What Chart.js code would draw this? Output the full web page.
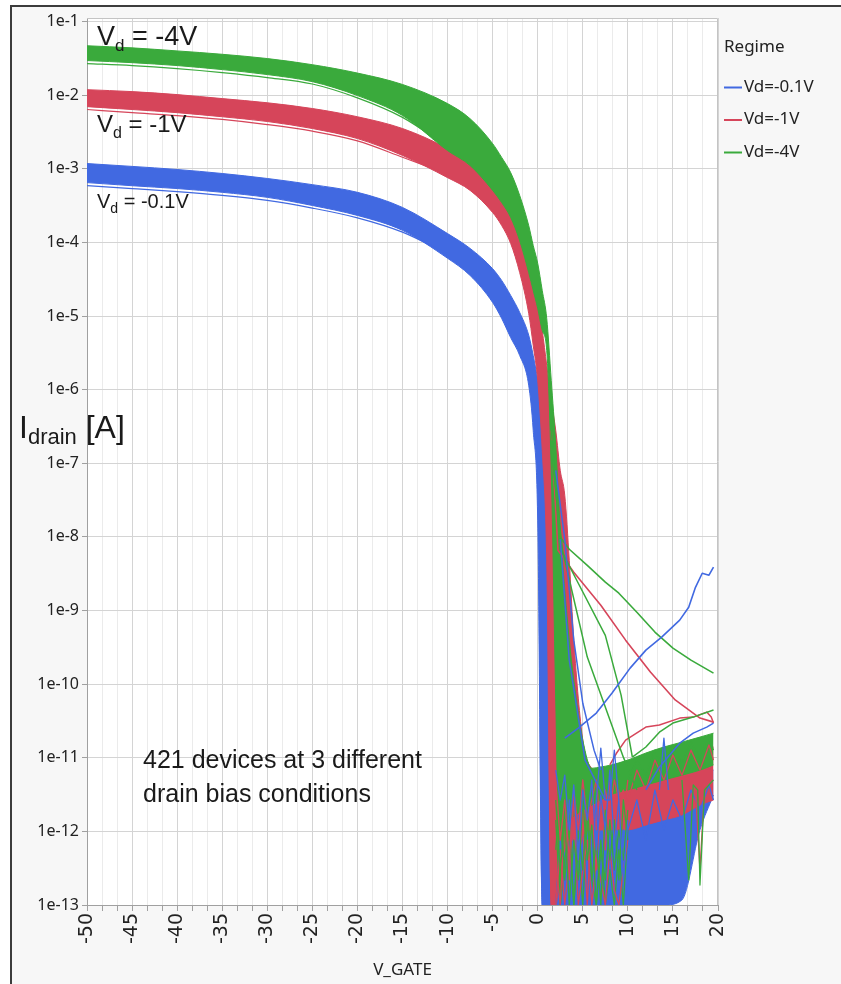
<!DOCTYPE html>
<html>
<head>
<meta charset="utf-8">
<title>Drain current vs gate voltage</title>
<script src="https://cdn.jsdelivr.net/npm/chart.js@4.4.1/dist/chart.umd.min.js"></script>
<style>
  html, body { margin: 0; padding: 0; background: #ffffff; overflow: hidden; width: 841px; height: 984px; }
  #frame { position: absolute; left: 10px; top: 5px; width: 860px; height: 1000px;
           background: #f7f7f7; border-left: 2px solid #3c3c3c; border-top: 2px solid #3c3c3c; }
  #wrap { position: absolute; left: 0; top: 0; width: 841px; height: 984px; }
</style>
</head>
<body>
<div id="frame"></div>
<div id="wrap"><canvas id="chart" width="841" height="984"></canvas></div>
<script>
// ---- Gate-voltage sweep (V) shared by the envelope curves ----
const gateV = [-50, -45, -40, -35, -30, -25, -20, -15, -10, -7.5, -5, -4, -3, -2, -1, -0.5, 0, 0.5,
               1, 1.5, 2, 2.5, 3, 3.5, 4, 5, 6, 7, 8, 10, 12, 14, 16, 18, 19.5];

// ---- Envelopes of the 421 device curves per drain bias (A) ----
const vd4Upper = [4.7e-2, 4.4e-2, 4.0e-2, 3.6e-2, 3.15e-2, 2.6e-2, 2.0e-2, 1.4e-2, 7.7e-3, 4.8e-3,
                  2.2e-3, 1.43e-3, 8.9e-4, 4.35e-4, 1.7e-4, 9.1e-5, 5.2e-5, 2.23e-5, 9.3e-6, 1.34e-6,
                  1.76e-7, 1.23e-8, 1.89e-9, 3.96e-10, 1.13e-10, 1.74e-11, 7.2e-12, 7.5e-12, 7.9e-12, 9.3e-12,
                  1.16e-11, 1.4e-11, 1.63e-11, 1.91e-11, 2.16e-11];
const vd4Lower = [2.96e-2, 2.77e-2, 2.53e-2, 2.23e-2, 1.91e-2, 1.53e-2, 9.9e-3, 5.3e-3, 1.77e-3, 1.11e-3,
                  5.1e-4, 3.49e-4, 2.19e-4, 1.06e-4, 3.9e-5, 2.23e-5, 1.27e-5, 6.4e-6, 3.42e-6, 8.0e-8,
                  6.1e-11, 1e-13, 1.0e-12, 1.43e-12, 1.6e-12, 1.95e-12, 2.28e-12, 2.67e-12, 3.12e-12, 3.65e-12,
                  4.27e-12, 5.0e-12, 5.8e-12, 6.8e-12, 8.0e-12];
const vd1Upper = [1.19e-2, 1.12e-2, 1.02e-2, 9.0e-3, 7.9e-3, 6.6e-3, 5.1e-3, 3.53e-3, 1.89e-3, 1.22e-3,
                  5.9e-4, 3.96e-4, 2.33e-4, 1.24e-4, 5.4e-5, 3.05e-5, 1.63e-5, 6.4e-6, 2.14e-6, 7.2e-7,
                  2.8e-7, 8.0e-8, 3.68e-8, 4.8e-9, 4.0e-10, 1.74e-11, 7.2e-12, 6.4e-12, 6.4e-12, 6.8e-12,
                  8.0e-12, 9.3e-12, 1.09e-11, 1.27e-11, 1.4e-11];
const vd1Lower = [7.0e-3, 6.4e-3, 5.8e-3, 5.1e-3, 4.4e-3, 3.53e-3, 2.58e-3, 1.52e-3, 7.6e-4, 5.1e-4,
                  2.55e-4, 1.7e-4, 9.7e-5, 3.9e-5, 1.09e-5, 4.0e-6, 1.34e-6, 1.5e-7, 4.8e-9, 1e-13,
                  1e-13, 3.0e-13, 5.6e-13, 7.6e-13, 7.6e-13, 9.0e-13, 1.05e-12, 1.05e-12, 1.05e-12, 1.05e-12,
                  1.22e-12, 1.43e-12, 1.67e-12, 2.28e-12, 2.67e-12];
const vd01Upper = [1.18e-3, 1.08e-3, 9.8e-4, 8.65e-4, 7.4e-4, 6.1e-4, 4.8e-4, 2.99e-4, 1.32e-4, 8.3e-5,
                   4.4e-5, 3.05e-5, 1.91e-5, 1.12e-5, 5.5e-6, 2.92e-6, 1.34e-6, 4.5e-7, 1.76e-7, 4.3e-8,
                   7.7e-9, 7.4e-10, 6.8e-12, 6.4e-12, 5.8e-12, 5.3e-12, 5.0e-12, 4.27e-12, 3.65e-12, 2.67e-12,
                   2.28e-12, 2.67e-12, 3.65e-12, 5.0e-12, 6.8e-12];
const vd01Lower = [6.5e-4, 5.9e-4, 5.4e-4, 4.8e-4, 4.1e-4, 3.18e-4, 2.33e-4, 1.46e-4, 6.1e-5, 3.56e-5,
                   1.53e-5, 9.3e-6, 5.1e-6, 2.92e-6, 1.15e-6, 2.8e-7, 1.69e-8, 1e-13, 1e-13, 1e-13,
                   1e-13, 1e-13, 1e-13, 1e-13, 1e-13, 1e-13, 1e-13, 1e-13, 1e-13, 1e-13,
                   1e-13, 1e-13, 1.17e-13, 1.05e-12, 3.12e-12];

// ---- Lowest on-current devices, slightly apart from each bundle ----
const lowDeviceGate = [-50, -45, -40, -35, -30, -25, -20, -15, -10];
const vd4LowDevice  = [2.69e-2, 2.53e-2, 2.3e-2, 2.03e-2, 1.74e-2, 1.42e-2, 9.2e-3, 5.0e-3, 2.0e-3];
const vd1LowDevice  = [6.4e-3, 5.8e-3, 5.3e-3, 4.7e-3, 4.0e-3, 3.25e-3, 2.4e-3, 1.44e-3, 8.5e-4];
const vd01LowDevice = [5.9e-4, 5.4e-4, 4.9e-4, 4.35e-4, 3.72e-4, 2.93e-4, 2.16e-4, 1.38e-4, 7.0e-5];

// ---- Individual outlier devices ----
const vd4TailGate = [1.5, 2.5, 3.5, 5.5, 7.5, 9, 11, 13, 15, 17, 19.5];
const vd4Tail     = [2.05e-7, 9.9e-9, 6.8e-9, 4.1e-9, 2.43e-9, 1.72e-9, 9.5e-10, 5.1e-10, 3.08e-10, 2.12e-10, 1.41e-10];
const vd4DropAGate = [1.5, 2.5, 4.5, 7.5, 9.25, 10.5];
const vd4DropA     = [3.0e-7, 7.0e-9, 2.35e-9, 4.6e-10, 7.1e-11, 1.02e-11];
const vd4DropBGate = [1.5, 2.75, 5.5, 9.5, 11];
const vd4DropB     = [1.5e-7, 6.6e-9, 2.33e-10, 1.02e-11, 3.65e-12];
const vd4RiseGate = [10.5, 12, 13.5, 15, 17.25, 19.5];
const vd4Rise     = [1.02e-11, 1.4e-11, 2.23e-11, 2.96e-11, 3.57e-11, 4.45e-11];
const vd1TailGate = [1.5, 2.25, 4, 7, 9.75, 12.5, 15.25, 18, 19.5];
const vd1Tail     = [2.8e-7, 6.6e-9, 3.32e-9, 1.18e-9, 3.96e-10, 1.46e-10, 6.1e-11, 3.46e-11, 3.05e-11];
const vd1RiseGate = [8, 8.75, 9.75, 12, 13.5, 15.75, 17.25, 18.75, 19.25, 19.5];
const vd1Rise     = [8.0e-12, 1.16e-11, 1.74e-11, 2.61e-11, 2.78e-11, 3.46e-11, 3.57e-11, 4.17e-11, 3.57e-11, 2.96e-11];
const vd01LeakGate = [3, 4.5, 6.5, 8.25, 10.25, 12, 13.75, 15.75, 16.75, 17.5, 18.25, 19, 19.5];
const vd01Leak     = [1.85e-11, 2.53e-11, 4.05e-11, 7.6e-11, 1.65e-10, 2.9e-10, 4.35e-10, 7.4e-10, 1.11e-9, 2.07e-9, 3.21e-9, 3.02e-9, 3.88e-9];
const vd01RiseGate = [12, 13.5, 15.75, 17.25, 18.75, 19.5];
const vd01Rise     = [3.65e-12, 7.5e-12, 1.58e-11, 2.16e-11, 2.61e-11, 2.96e-11];
const vd01DropAGate = [2, 3, 4, 5, 6.25, 7];
const vd01DropA     = [8.0e-8, 9.3e-9, 3.96e-10, 5.5e-11, 1.27e-11, 6.8e-12];
const vd01DropBGate = [2.5, 3.5, 5.25, 7.5];
const vd01DropB     = [9.3e-9, 2.12e-10, 9.3e-12, 2.67e-12];
const vd01SpikeGate = [6.5, 7, 7.5, 8, 8.5, 9, 11, 13.5, 14, 14.5];
const vd01Spike     = [2.67e-12, 1.35e-11, 2.67e-12, 2.67e-12, 1.27e-11, 2.67e-12, null, 3.65e-12, 1.85e-11, 3.65e-12];
const vd4SpikeGate = [16, 16.75, 17.25, 17.75, 18, 18.5, 19.5];
const vd4Spike     = [5.0e-12, 2.19e-13, 4.27e-12, 3.65e-12, 1.87e-13, 3.65e-12, 5.0e-12];
const vd1SpikeGate = [17.5, 18, 18.5];
const vd1Spike     = [3.65e-12, 3.0e-13, 3.65e-12];

// ---- Off-state noise floor traces ----
const floorGateL = [2, 2.5, 3, 3.5, 4, 4.5, 5, 5.5, 6, 6.5, 7, 7.5, 8, 8.5, 9, 9.5, 10];
const floorGateR = [10, 11, 12, 13, 14, 15, 16, 17, 18, 19, 19.5];
const vd01FloorA = [6.8e-12, 2.67e-12, 5.8e-12, 1.05e-12, 4.27e-12, 4.1e-13, 3.65e-12, 1.43e-12, 5.0e-12,
                    5.6e-13, 3.12e-12, 1.05e-12, 6.8e-12, 6.5e-13, 2.67e-12, 2.19e-13, 1.43e-12];
const vd01FloorB = [1e-13, 7.6e-13, 2.19e-13, 2.67e-12, 3.0e-13, 1.67e-12, 1e-13, 1.05e-12, 4.1e-13,
                    2.67e-12, 1.6e-13, 7.6e-13, 1e-13, 5.6e-13, 2.19e-13, 1.05e-12, 3.0e-13];
const vd4FloorA = [2.67e-12, 3.0e-13, 1.43e-12, 1e-13, 7.6e-13, 2.19e-13, 2.67e-12, 4.1e-13, 1.22e-12,
                   1e-13, 5.6e-13, 2.19e-13, 1.43e-12, 3.0e-13, 1.05e-12, 4.1e-13, 1.95e-12];
const vd4FloorB = [5.6e-13, 3.65e-12, 2.19e-13, 1.43e-12, 1e-13, 1.05e-12, 3.0e-13, 2.67e-12, 2.19e-13,
                   7.6e-13, 1e-13, 1.95e-12, 4.1e-13, 1.43e-12, 2.19e-13, 2.67e-12, 7.6e-13];
const vd4FloorC = [1.43e-12, 1e-13, 4.1e-13, 1.05e-12, 1e-13, 5.6e-13, 1e-13, 1.43e-12, 2.19e-13,
                   1e-13, 7.6e-13, 1e-13, 3.0e-13, 1e-13, 5.6e-13, 1e-13, 1.05e-12];
const vd1FloorA = [4.1e-13, 1e-13, 1.43e-12, 2.19e-13, 2.67e-12, 4.1e-13, 1.05e-12, 1e-13, 1.95e-12,
                   3.0e-13, 2.67e-12, 5.6e-13, 5.0e-12, 7.6e-13, 3.65e-12, 1.43e-12, 5.0e-12];
const vd1FloorB = [5.0e-12, 7.6e-13, 2.67e-12, 4.1e-13, 3.65e-12, 1.05e-12, 5.0e-12, 1.43e-12, 2.67e-12,
                   5.0e-12, 1.05e-12, 3.65e-12, 1.95e-12, 5.0e-12, 2.67e-12, 3.65e-12, 2.28e-12];
const vd1FloorC = [1e-13, 5.6e-13, 1e-13, 4.1e-13, 1.43e-12, 1e-13, 3.0e-13, 7.6e-13, 1e-13,
                   4.1e-13, 2.19e-13, 1e-13, 5.6e-13, 1.6e-13, 1e-13, 3.0e-13, 7.6e-13];
const vd1FloorR  = [2.67e-12, 6.8e-12, 3.65e-12, 9.3e-12, 5.0e-12, 1.09e-11, 5.8e-12, 1.27e-11, 6.8e-12, 1.49e-11, 9.3e-12];
const vd4FloorR  = [5.0e-12, 9.3e-12, 5.8e-12, 1.27e-11, 6.8e-12, 1.35e-11, 8.7e-12, 1.63e-11, 9.9e-12, 1.85e-11, 1.27e-11];
const vd01FloorR = [1.05e-12, 2.67e-12, 7.6e-13, 3.65e-12, 1.05e-12, 2.67e-12, 1.43e-12, 3.65e-12, 1.95e-12, 4.27e-12, 2.67e-12];

// ---- Axes ----
const xTickLabels = ['-50', '-45', '-40', '-35', '-30', '-25', '-20', '-15', '-10', '-5', '0', '5', '10', '15', '20'];
const yTickLabels = ['1e-13', '1e-12', '1e-11', '1e-10', '1e-9', '1e-8', '1e-7', '1e-6', '1e-5', '1e-4', '1e-3', '1e-2', '1e-1'];
const yTickValues = [1e-13, 1e-12, 1e-11, 1e-10, 1e-9, 1e-8, 1e-7, 1e-6, 1e-5, 1e-4, 1e-3, 1e-2, 1e-1];

// ---- Legend ----
const legendTitle = 'Regime';
const legendLabels = ['Vd=-0.1V', 'Vd=-1V', 'Vd=-4V'];

const COLOR = { vd01: '#4169e1', vd1: '#d6455a', vd4: '#3aaa3c' };
const legendColors = [COLOR.vd01, COLOR.vd1, COLOR.vd4];
const TICK_FONT = '"Noto Sans", "DejaVu Sans", sans-serif';
const XTICK_FONT = '"DejaVu Sans", "Noto Sans", sans-serif';
const NOTE_FONT = '"Liberation Sans", Arial, sans-serif';

function pts(xs, ys) { return xs.map((x, i) => ({ x: x, y: ys[i] })); }
function trace(xs, ys, color, width, smooth) {
  const ds = { data: pts(xs, ys), borderColor: color, backgroundColor: color,
               borderWidth: width, fill: false, pointRadius: 0 };
  if (smooth) ds.cubicInterpolationMode = 'monotone';
  return ds;
}
function band(upper, lower, color) {
  const common = { borderColor: color, backgroundColor: color, borderWidth: 1, pointRadius: 0,
                   cubicInterpolationMode: 'monotone' };
  return [
    Object.assign({ data: pts(gateV, upper), fill: '+1' }, common),
    Object.assign({ data: pts(gateV, lower), fill: false }, common)
  ];
}

// x ticks: labelled every 5 V, two unlabelled grid steps in between
const xMajor = xTickLabels.map(Number);
const xTicks = [];
xMajor.forEach((v, i) => {
  xTicks.push(v);
  if (i < xMajor.length - 1) { xTicks.push(v + 5 / 3); xTicks.push(v + 10 / 3); }
});
const majorIndex = (v) => xMajor.findIndex(m => Math.abs(m - v) < 1e-6);

// first dataset is painted last (on top)
const datasets = [
  trace(vd01LeakGate, vd01Leak, COLOR.vd01, 1.6),
  trace(vd01RiseGate, vd01Rise, COLOR.vd01, 1.5),
  trace(vd01DropAGate, vd01DropA, COLOR.vd01, 1.5),
  trace(vd01DropBGate, vd01DropB, COLOR.vd01, 1.5),
  trace(vd01SpikeGate, vd01Spike, COLOR.vd01, 1.3),
  trace(vd4TailGate, vd4Tail, COLOR.vd4, 1.6),
  trace(vd4DropAGate, vd4DropA, COLOR.vd4, 1.5),
  trace(vd4DropBGate, vd4DropB, COLOR.vd4, 1.5),
  trace(vd4RiseGate, vd4Rise, COLOR.vd4, 1.5),
  trace(vd4SpikeGate, vd4Spike, COLOR.vd4, 1.3),
  trace(vd1TailGate, vd1Tail, COLOR.vd1, 1.6),
  trace(vd1RiseGate, vd1Rise, COLOR.vd1, 1.5),
  trace(vd1SpikeGate, vd1Spike, COLOR.vd1, 1.3),
  trace(floorGateL, vd01FloorA, COLOR.vd01, 1.3),
  trace(floorGateL, vd4FloorA, COLOR.vd4, 1.3),
  trace(floorGateL, vd1FloorB, COLOR.vd1, 1.3),
  trace(floorGateL, vd4FloorB, COLOR.vd4, 1.3),
  trace(floorGateL, vd1FloorA, COLOR.vd1, 1.3),
  trace(floorGateL, vd1FloorC, COLOR.vd1, 1.3),
  trace(floorGateL, vd4FloorC, COLOR.vd4, 1.3),
  trace(floorGateL, vd01FloorB, COLOR.vd01, 1.3),
  trace(floorGateR, vd4FloorR, COLOR.vd4, 1.3),
  trace(floorGateR, vd1FloorR, COLOR.vd1, 1.3),
  trace(floorGateR, vd01FloorR, COLOR.vd01, 1.3),
  trace(lowDeviceGate, vd4LowDevice, COLOR.vd4, 1.2, true),
  ...band(vd4Upper, vd4Lower, COLOR.vd4),
  trace(lowDeviceGate, vd1LowDevice, COLOR.vd1, 1.2, true),
  ...band(vd1Upper, vd1Lower, COLOR.vd1),
  trace(lowDeviceGate, vd01LowDevice, COLOR.vd01, 1.2, true),
  ...band(vd01Upper, vd01Lower, COLOR.vd01)
];

// text placed relative to the plot area's top-left corner
const biasNotes = [
  { main: 'V', sub: 'd', rest: ' = -4V', dx: 10, dy: 27, size: 27, subSize: 17, drop: 6 },
  { main: 'V', sub: 'd', rest: ' = -1V', dx: 10, dy: 114, size: 24, subSize: 16, drop: 6 },
  { main: 'V', sub: 'd', rest: ' = -0.1V', dx: 10, dy: 190, size: 20, subSize: 14, drop: 5 },
  { main: 'I', sub: 'drain', rest: ' [A]', dx: -68, dy: 420, size: 32, subSize: 22, drop: 6 }
];
const countNote = { lines: ['421 devices at 3 different', 'drain bias conditions'], dx: 56, dy: 750, size: 25, lineGap: 34 };

function drawSub(ctx, x, y, n) {
  ctx.font = n.size + 'px ' + NOTE_FONT;
  ctx.fillText(n.main, x, y);
  let w = ctx.measureText(n.main).width;
  ctx.font = n.subSize + 'px ' + NOTE_FONT;
  ctx.fillText(n.sub, x + w, y + n.drop);
  w += ctx.measureText(n.sub).width;
  ctx.font = n.size + 'px ' + NOTE_FONT;
  ctx.fillText(n.rest, x + w, y);
}

const decorations = {
  id: 'decorations',
  beforeDraw(chart) {
    const { ctx, chartArea: a } = chart;
    ctx.save();
    ctx.fillStyle = '#ffffff';
    ctx.fillRect(a.left, a.top, a.right - a.left, a.bottom - a.top);
    ctx.restore();
  },
  afterDatasetsDraw(chart) {
    const { ctx, chartArea: a } = chart;
    ctx.save();
    ctx.strokeStyle = '#c4c4c4';
    ctx.lineWidth = 1;
    ctx.beginPath();
    ctx.moveTo(a.left, a.top + 0.5);
    ctx.lineTo(a.right - 0.5, a.top + 0.5);
    ctx.lineTo(a.right - 0.5, a.bottom);
    ctx.stroke();
    ctx.restore();
  },
  afterDraw(chart) {
    const { ctx, chartArea: a } = chart;
    ctx.save();
    ctx.fillStyle = '#1a1a1a';
    ctx.textBaseline = 'alphabetic';
    ctx.textAlign = 'left';
    biasNotes.forEach(n => drawSub(ctx, a.left + n.dx, a.top + n.dy, n));
    ctx.font = countNote.size + 'px ' + NOTE_FONT;
    countNote.lines.forEach((t, i) => ctx.fillText(t, a.left + countNote.dx, a.top + countNote.dy + i * countNote.lineGap));

    // legend
    const lx = a.right + 6;
    ctx.fillStyle = '#222222';
    ctx.textBaseline = 'middle';
    ctx.font = '17px ' + TICK_FONT;
    ctx.fillText(legendTitle, lx, a.top + 29);
    legendLabels.forEach((t, i) => {
      const y = a.top + 69 + i * 32.5;
      ctx.strokeStyle = legendColors[i];
      ctx.lineWidth = 2;
      ctx.beginPath();
      ctx.moveTo(lx, y + 0.5);
      ctx.lineTo(lx + 18, y + 0.5);
      ctx.stroke();
      ctx.fillStyle = '#222222';
      ctx.fillText(t, lx + 20, y);
    });
    ctx.restore();
  }
};

new Chart(document.getElementById('chart'), {
  type: 'line',
  data: { datasets: datasets },
  plugins: [decorations],
  options: {
    responsive: false,
    animation: false,
    events: [],
    layout: { padding: { left: 0, top: 18, right: 123, bottom: 0 } },
    elements: { line: { tension: 0, borderJoinStyle: 'round' }, point: { radius: 0 } },
    plugins: { legend: { display: false }, tooltip: { enabled: false } },
    scales: {
      x: {
        type: 'linear', min: -50, max: 20,
        afterBuildTicks: (s) => { s.ticks = xTicks.map(v => ({ value: v })); },
        afterFit: (s) => { s.height = 79; },
        ticks: {
          autoSkip: false, minRotation: 90, maxRotation: 90, padding: 2,
          color: '#222222', font: { family: XTICK_FONT, size: 19 },
          callback: (v) => { const i = majorIndex(v); return i >= 0 ? xTickLabels[i] : ''; }
        },
        grid: {
          color: (c) => (c.tick && majorIndex(c.tick.value) >= 0) ? '#d4d4d4' : '#ebebeb',
          tickColor: '#a0a0a0', tickLength: 6
        },
        border: { color: '#a0a0a0' },
        title: { display: true, text: 'V_GATE', color: '#222222',
                 font: { family: TICK_FONT, size: 17 }, padding: { top: 4, bottom: 4 } }
      },
      y: {
        type: 'logarithmic', min: 1e-13, max: 0.112,
        afterBuildTicks: (s) => { s.ticks = yTickValues.map(v => ({ value: v })); },
        afterFit: (s) => { s.width = 87; },
        ticks: {
          autoSkip: false, padding: 3, color: '#222222',
          font: { family: TICK_FONT, size: 16 },
          callback: (v, i) => yTickLabels[i]
        },
        grid: { color: '#d4d4d4', tickColor: '#a0a0a0', tickLength: 5 },
        border: { color: '#a0a0a0' }
      }
    }
  }
});
</script>
</body>
</html>
